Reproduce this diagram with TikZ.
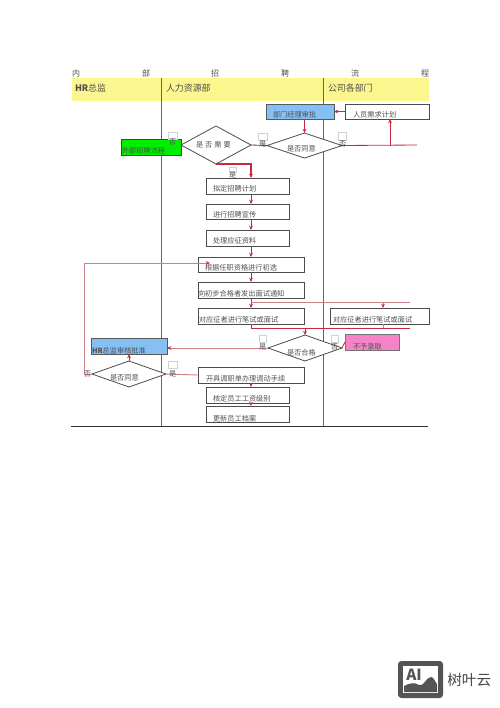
\documentclass[tikz,border=0pt]{standalone}
\usepackage{fontspec}
\setmainfont{Noto Sans CJK SC}
\usetikzlibrary{shapes.geometric,arrows.meta}
\definecolor{hy}{HTML}{FBF78E}
\definecolor{hb}{HTML}{85C0F5}
\definecolor{hg}{HTML}{00EE00}
\definecolor{hp}{HTML}{F583C6}
\definecolor{ln}{HTML}{C9283E}
\definecolor{lp}{HTML}{CC8088}
\definecolor{tx}{HTML}{505050}
\newdimen\pxu \pxu=0.75pt
\tikzset{
 base/.style={inner sep=0pt,outer sep=0pt,text=tx,font=\fontsize{5.4pt}{6pt}\selectfont},
 wbox/.style={base,draw=black!70,line width=.6pt,fill=white},
 blue/.style={base,draw=black!65,line width=.7pt,fill=hb},
 greenb/.style={base,draw=green!45!black,line width=.5pt,fill=hg},
 pinkb/.style={base,draw=black!55,line width=.5pt,fill=hp},
 tagb/.style={base,draw=black!18,line width=.3pt},
 free/.style={base,font=\fontsize{6pt}{7pt}\selectfont},
 head/.style={base,font=\fontsize{6.7pt}{8pt}\selectfont,text=black!70},
 dia/.style={base,diamond,draw=black!70,line width=.6pt,fill=white,aspect=2},
 flow/.style={draw=ln,line width=.62pt,-{Stealth[length=3.2pt,width=2.8pt]}},
 flown/.style={draw=ln,line width=.62pt},
 pale/.style={draw=lp,line width=.7pt},
 palea/.style={pale,-{Stealth[length=3.2pt,width=2.8pt,color=ln]}},
}
% name x1 y1 x2 y2 style textx baseline text
\newcommand\bxn[9]{%
 \pgfmathsetmacro\bcx{(#2+#4)/2}\pgfmathsetmacro\bcy{(#3+#5)/2}%
 \pgfmathsetmacro\bw{#4-#2}\pgfmathsetmacro\bh{#5-#3}%
 \pgfmathsetmacro\bdx{#7-\bcx}\pgfmathsetmacro\bdy{\bcy-#8}%
 \node[#6,minimum width=\bw*0.75pt,minimum height=\bh*0.75pt] (#1) at (\bcx,\bcy)
  {\makebox[0pt][l]{\kern\bdx\pxu\raisebox{\bdy\pxu}[0pt][0pt]{#9}}};}
\begin{document}
\begin{tikzpicture}[x=0.75pt,y=-0.75pt]
\useasboundingbox (0,0) rectangle (500,708);
\fill[white] (0,0) rectangle (500,708);
% title
\node[free,anchor=base west] (t1) at (72,76) {内};
\node[free,anchor=base west] (t2) at (142,76) {部};
\node[free,anchor=base west] (t3) at (211,76) {招};
\node[free,anchor=base west] (t4) at (281,76) {聘};
\node[free,anchor=base west] (t5) at (351,76) {流};
\node[free,anchor=base west] (t6) at (421,76) {程};
% header band
\fill[hy] (72,78) rectangle (429,101);
\bxn{h1}{72}{78}{161}{101}{head}{75}{91}{\textbf{HR}总监}
\bxn{h2}{161}{78}{323}{101}{head}{166}{91}{人力资源部}
\bxn{h3}{323}{78}{429}{101}{head}{328}{91}{公司各部门}
\coordinate (vt1) at (161,78); \coordinate (vb1) at (161,426);
\coordinate (vt2) at (323,78); \coordinate (vb2) at (323,426);
\coordinate (bl) at (71,426); \coordinate (br) at (428,426);
\draw[black!60,line width=.7pt] (vt1) -- (vb1);
\draw[black!60,line width=.7pt] (vt2) -- (vb2);
\draw[black!80,line width=.7pt] (bl) -- (br);
\coordinate (sp) at (251,0);
\coordinate (sq) at (383,0);
\coordinate (sr) at (390,0);
\coordinate (st) at (304.5,0);
% boxes
\bxn{bappr}{266}{104}{334}{119}{blue}{273}{117}{部门经理审批}
\bxn{bplan}{345}{104}{429}{119}{wbox}{353}{117}{人员需求计划}
\bxn{bext}{121}{139}{181}{155}{greenb}{122}{153}{外部招聘流程}
\bxn{b1}{206}{178}{289}{194}{wbox}{213}{191}{拟定招聘计划}
\bxn{b2}{206}{204}{289}{219}{wbox}{213}{217}{进行招聘宣传}
\bxn{b3}{206}{230}{289}{246}{wbox}{213}{243}{处理应征资料}
\bxn{b4}{198}{257}{304}{272}{wbox}{205}{270}{根据任职资格进行初选}
\bxn{b5}{198}{282}{304}{298}{wbox}{198}{296}{向初步合格者发出面试通知}
\bxn{b6}{198}{308}{304}{324}{wbox}{199}{322}{对应征者进行笔试或面试}
\bxn{b7}{330}{308}{429}{324}{wbox}{333}{322}{对应征者进行笔试或面试}
\bxn{brej}{345}{334}{399}{350}{pinkb}{353}{349}{不予录取}
\bxn{bhr}{91}{338}{167}{354}{blue}{92}{353}{\textbf{HR}总监审核批准}
\bxn{b8}{198}{367}{304}{383}{wbox}{206}{381}{开具调职单办理调动手续}
\bxn{b9}{206}{387}{289}{403}{wbox}{213}{401}{核定员工工资级别}
\bxn{b10}{206}{406}{289}{422}{wbox}{213}{421}{更新员工档案}
% diamonds
\bxn{d1}{181}{126}{251}{164}{dia}{196}{147}{是\kern1.5pt否\kern1.5pt需\kern1.5pt要}
\bxn{d2}{267}{133}{342}{158}{dia}{287}{151}{是否同意}
\bxn{d3}{268}{335}{342}{361}{dia}{287}{355}{是否合格}
\bxn{d4}{92}{361}{166}{387}{dia}{110}{380}{是否同意}
% free ends
\coordinate (e1) at (417,145);
\coordinate (e2) at (410,302);
\coordinate (e3) at (410,328);
\coordinate (ly) at (251,328);
\coordinate (lf) at (84,0);
\coordinate (lt) at (210,263);
\coordinate (j1) at (305,328);
% connectors
\draw[flow] (bplan.west) -- (bappr.east);
\draw[flow] (bappr.south -| st) -- (d2.north);
\draw[flown] (d2.east) -- (e1);
\draw[flow] (d2.east -| sr) -- (bplan.south -| sr);
\draw[flow,line width=.85pt] (d1.south) -- (d1.south -| sp) -- (b1.north -| sp);
\draw[flown,draw=ln!80!black] (d2.west) -- (d1.east);
\draw[flow] (b1.south -| sp) -- (b2.north -| sp);
\draw[flow] (b2.south -| sp) -- (b3.north -| sp);
\draw[flow] (b3.south -| sp) -- (b4.north -| sp);
\draw[flow] (b4.south -| sp) -- (b5.north -| sp);
\draw[flow] (b5.south -| sp) -- (b6.north -| sp);
\draw[pale] (e2 -| sp) -- (e2);
\draw[palea] (e2 -| sq) -- (b7.north -| sq);
\draw[flown] (b6.south -| sp) -- (ly);
\draw[flown] (ly) -- (e3);
\draw[pale,line width=.4pt] (b7.south -| sq) -- (e3 -| sq);
\draw[flow] (j1) -- (d3.north);
\draw[flown] (d3.east) -- (brej.west);
\draw[palea] (d3.west) -- (d3.west -| bhr.east);
\draw[flow] (d4.north) -- (bhr.south);
\draw[pale] (d4.east) -- (b8.west);
\draw[flow] (b8.south -| sp) -- (b9.north -| sp);
\draw[flow] (b9.south -| sp) -- (b10.north -| sp);
\draw[palea] (d4.west) -- (d4.west -| lf) -- (lt -| lf) -- (lt);
% yes/no tags
\bxn{g1}{168}{132}{177}{139}{tagb}{169}{144}{否}
\bxn{g2}{258}{133}{267}{140}{tagb}{259}{146}{是}
\bxn{g3}{338}{132}{346}{140}{tagb}{339}{146}{否}
\bxn{g4}{229}{167}{236}{172}{tagb}{229}{177}{是}
\bxn{g6}{259}{335}{266}{342}{tagb}{259}{349}{是}
\bxn{g7}{331}{335}{338}{342}{tagb}{331}{349}{否}
\bxn{g8}{168}{361}{177}{368}{tagb}{169}{376}{是}
\bxn{g9}{83}{361}{91}{368}{base}{84}{376}{否}
% watermark
\node[draw=none,fill=black!67,rounded corners=2.5pt,minimum width=45*.75pt,minimum height=37*.75pt,inner sep=0pt] (wm) at (420.5,679.5) {};
\node[fill=white,minimum width=35*.75pt,minimum height=27*.75pt,inner sep=0pt] (wi) at (420.5,679.5) {};
\fill[black!67] (404,692) -- (404,686) .. controls (410,683) and (414,682) .. (419,685) .. controls (424,687) and (426,677) .. (431,677) .. controls (434,677) and (435,682) .. (437,684) -- (437,692) -- cycle;
\node[inner sep=0pt,text=black!67,font=\fontsize{11.5pt}{12pt}\selectfont\bfseries] (wa) at (414,675) {AI};
\node[inner sep=0pt,text=black!72,font=\fontsize{11pt}{12pt}\selectfont,anchor=west] (wt) at (447,680) {树叶云};
\end{tikzpicture}
\end{document}
